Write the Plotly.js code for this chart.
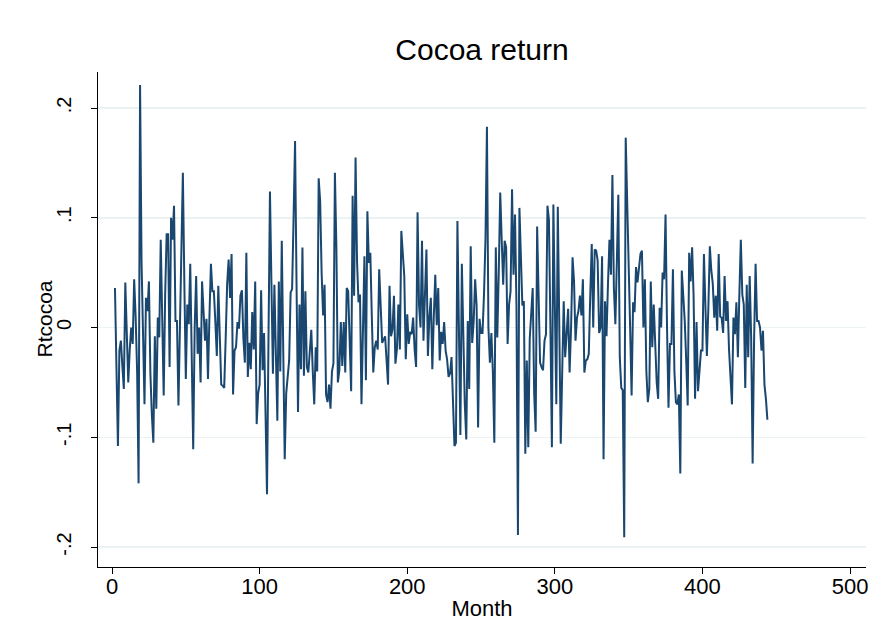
<!DOCTYPE html>
<html>
<head>
<meta charset="utf-8">
<script src="https://cdn.plot.ly/plotly-3.0.1.min.js"></script>
<style>
  html, body { margin: 0; padding: 0; background: #ffffff; }
  #chart { width: 875px; height: 622px; }
</style>
</head>
<body>
<div id="chart"></div>
<script>
// Chart data
const chartTitle = "Cocoa return";
const xTitle = "Month";
const yTitle = "Rtcocoa";
const firstMonth = 2;
const xTickVals = [0, 100, 200, 300, 400, 500];
const yTickVals = [0.2, 0.1, 0, -0.1, -0.2];
const yTickText = [".2", ".1", "0", "-.1", "-.2"];
const rtcocoa = [
  0.036,-0.030,-0.108,-0.021,-0.012,-0.035,-0.056,0.041,
  -0.010,-0.050,-0.020,0.000,-0.015,0.044,0.010,-0.040,-0.142,0.221,
  0.060,-0.010,-0.070,0.027,0.015,0.042,-0.042,-0.080,-0.105,-0.008,
  -0.074,0.009,-0.009,0.080,0.010,-0.062,0.030,0.085,0.085,-0.036,
  0.100,0.080,0.111,0.006,0.006,-0.071,0.000,0.070,0.141,0.040,
  -0.047,0.021,0.003,0.058,-0.030,-0.111,0.000,0.047,-0.024,0.000,
  -0.050,0.042,0.015,-0.012,0.008,-0.047,0.010,0.058,0.033,0.033,
  0.005,-0.026,0.038,-0.020,-0.052,-0.053,-0.055,-0.010,0.040,0.062,
  0.027,0.067,-0.061,-0.021,-0.018,0.005,-0.001,0.029,0.034,-0.010,
  -0.032,0.068,-0.045,-0.014,-0.038,0.014,-0.020,0.042,-0.088,-0.060,
  -0.052,0.034,-0.039,-0.005,-0.080,-0.152,-0.010,0.124,0.040,-0.042,
  0.039,-0.020,-0.085,0.042,-0.040,0.079,-0.020,-0.120,-0.060,-0.045,
  -0.030,0.032,0.035,0.100,0.170,0.040,-0.077,0.021,-0.038,0.073,
  -0.044,0.033,-0.036,-0.041,-0.020,-0.002,-0.040,-0.070,-0.018,-0.040,
  0.136,0.115,0.050,0.011,0.039,-0.061,-0.068,-0.052,-0.074,-0.040,
  -0.033,0.141,0.073,-0.050,-0.039,0.005,-0.035,0.005,-0.041,0.036,
  0.033,-0.010,-0.058,0.120,0.029,0.155,0.060,0.023,0.030,-0.070,
  0.000,0.065,-0.048,0.106,0.059,0.068,0.010,-0.041,-0.018,-0.012,
  -0.020,0.053,0.020,-0.014,-0.011,-0.008,-0.030,-0.052,0.038,-0.008,
  -0.002,0.029,-0.033,-0.020,0.021,-0.020,0.088,0.065,0.047,-0.029,
  0.012,-0.015,-0.004,-0.006,0.009,-0.020,-0.036,0.105,0.020,0.000,
  0.079,-0.012,0.030,0.071,-0.026,0.010,0.027,-0.038,0.010,0.048,
  0.002,0.036,-0.030,-0.004,-0.015,0.005,-0.021,-0.029,-0.045,-0.042,
  -0.027,-0.060,-0.108,-0.105,0.097,0.000,-0.098,0.058,-0.020,-0.070,
  -0.102,0.006,-0.056,0.074,-0.014,0.005,0.044,0.020,-0.091,0.008,
  -0.005,-0.005,0.030,0.080,0.183,0.000,-0.032,-0.005,-0.040,-0.105,
  0.073,-0.009,0.050,0.123,0.080,0.039,0.079,0.073,-0.015,0.021,
  0.033,0.126,0.048,0.103,0.020,-0.189,0.109,0.050,0.020,0.024,
  -0.115,-0.030,-0.109,-0.010,0.018,0.036,-0.060,-0.095,0.092,0.010,
  -0.032,-0.036,-0.039,-0.012,-0.006,0.111,0.098,0.000,-0.109,0.112,
  0.020,-0.070,0.110,0.000,-0.106,-0.040,0.024,-0.027,-0.002,0.017,
  -0.041,0.000,0.064,0.042,-0.012,0.009,0.015,0.029,0.011,0.044,
  -0.041,-0.030,-0.029,-0.024,0.030,0.076,0.000,0.071,0.070,0.061,
  -0.005,0.000,0.065,-0.120,0.024,-0.008,0.040,0.080,0.048,0.139,
  0.036,0.003,0.060,0.121,-0.027,-0.055,-0.057,-0.191,0.173,0.120,
  0.080,0.000,-0.062,0.023,0.014,0.055,0.041,0.055,0.067,0.070,
  0.000,0.044,-0.040,-0.068,-0.056,0.042,-0.018,0.021,-0.020,-0.050,
  -0.065,0.018,0.000,0.050,0.044,0.103,0.000,-0.073,-0.015,-0.015,
  0.053,-0.040,-0.068,-0.070,-0.061,-0.133,0.052,0.030,0.006,-0.030,
  -0.071,0.068,0.042,0.073,0.029,-0.065,0.005,-0.058,-0.040,-0.021,
  -0.021,0.067,0.020,-0.026,0.018,0.074,0.052,0.040,0.009,0.029,
  -0.003,0.067,0.010,0.009,-0.005,0.047,0.006,0.024,-0.020,-0.045,
  -0.070,0.009,-0.006,0.023,-0.027,0.030,0.080,0.030,0.021,-0.055,
  0.039,-0.027,0.047,-0.009,-0.124,-0.010,0.058,0.006,0.006,0.000,
  -0.021,-0.003,-0.052,-0.065,-0.084
];
const months = rtcocoa.map((_, i) => firstMonth + i);

const font = "Liberation Sans, Arial, Helvetica, sans-serif";

const trace = {
  x: months,
  y: rtcocoa,
  type: "scatter",
  mode: "lines",
  line: { color: "#1a476f", width: 2 },
  hoverinfo: "x+y"
};

const layout = {
  width: 875,
  height: 622,
  paper_bgcolor: "#ffffff",
  plot_bgcolor: "#ffffff",
  margin: { l: 98, r: 9, t: 72, b: 55, pad: 0 },
  showlegend: false,
  font: { family: font, color: "#000000", size: 21 },
  title: {
    text: chartTitle,
    font: { family: font, size: 30, color: "#000000" },
    x: 0.5, xref: "paper",
    y: 1, yref: "paper", yanchor: "bottom",
    pad: { b: 12 }
  },
  xaxis: {
    range: [-9.5, 510.8],
    tickvals: xTickVals,
    ticktext: xTickVals.map(String),
    ticks: "outside", ticklen: 6, tickwidth: 1, tickcolor: "#000000",
    ticklabelstandoff: -6,
    showline: true, linecolor: "#000000", linewidth: 1,
    showgrid: false, zeroline: false,
    tickfont: { family: font, size: 22, color: "#000000" },
    title: { text: xTitle, font: { family: font, size: 22, color: "#000000" }, standoff: 2 }
  },
  yaxis: {
    range: [-0.2182, 0.2328],
    tickvals: yTickVals,
    ticktext: yTickText,
    tickangle: -90,
    ticks: "outside", ticklen: 6, tickwidth: 1, tickcolor: "#000000",
    ticklabelstandoff: 12,
    showline: true, linecolor: "#000000", linewidth: 1,
    showgrid: true, gridcolor: "#eaf2f3", gridwidth: 1.5,
    zeroline: false,
    tickfont: { family: font, size: 20, color: "#000000" }
  },
  annotations: [{
    text: yTitle,
    xref: "paper", yref: "paper",
    x: -0.0703, y: 0.5,
    xanchor: "center", yanchor: "middle",
    textangle: -90,
    showarrow: false,
    font: { family: font, size: 21, color: "#000000" }
  }]
};

Plotly.newPlot("chart", [trace], layout, { displayModeBar: false, staticPlot: true });
</script>
</body>
</html>
